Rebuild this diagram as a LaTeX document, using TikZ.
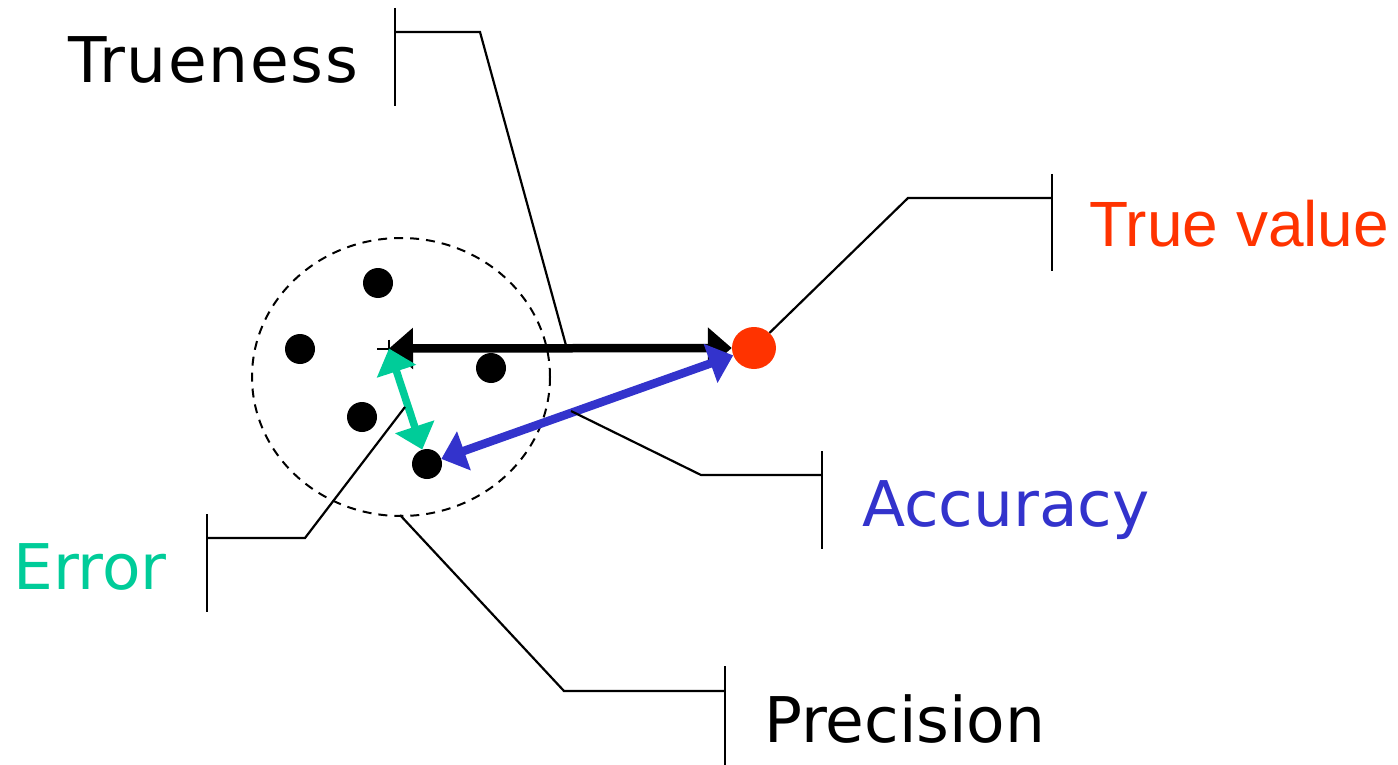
\documentclass[tikz,border=0pt]{standalone}
\usepackage{fontspec}
\setmainfont{DejaVu Sans}
\newfontfamily\arialfont{Liberation Sans}
\newfontfamily\spacedfont[LetterSpace=2.7]{DejaVu Sans}
\usetikzlibrary{arrows.meta,calc,shapes.geometric}
\definecolor{tvred}{HTML}{FF3300}
\definecolor{accblue}{HTML}{3333CC}
\definecolor{errgreen}{HTML}{00CC99}
\begin{document}
\begin{tikzpicture}[x=1pt,y=-1pt,
  lbl/.style={anchor=base west,inner sep=0pt,font=\fontsize{63}{75}\selectfont},
  dot/.style={circle,fill=black,inner sep=0pt,minimum size=30pt},
  callout/.style={line width=2.2pt,black},
  bigarrow/.style={line width=8.5pt,{Triangle[length=24pt,width=40pt]}-{Triangle[length=24pt,width=40pt]}},
  ]
\useasboundingbox (0,0) rectangle (1398,765);
% dashed circle
\draw[line width=2pt,dash pattern=on 9pt off 7pt] (401,377) ellipse [x radius=149, y radius=139];
% dots
\node[dot] (d1) at (378,283) {};
\node[dot] (d2) at (300,349) {};
\node[dot] (d3) at (491,368) {};
\node[dot] (d4) at (362,417) {};
\node[dot] (d5) at (427,464) {};
\coordinate (m) at (389,348.5);
\draw[line width=2pt] ($(m)+(-12,0)$) -- ($(m)+(9,0)$) ($(m)+(0,-9)$) -- ($(m)+(0,9)$);
% true value
\node[ellipse,fill=tvred,inner sep=0pt,minimum width=44pt,minimum height=42pt] (tv) at (754,348) {};
% arrows
\draw[bigarrow,black] (m) -- (tv);
\draw[bigarrow,accblue] (d5) -- (tv);
\draw[bigarrow,errgreen,line width=7.5pt] (m) -- (d5);
% labels
\node[lbl,font=\spacedfont\fontsize{63}{75}\selectfont] (trueness) at (68,83) {Trueness};
\node[lbl,text=tvred,font=\arialfont\fontsize{64}{76}\selectfont] (truevalue) at (1089,246) {True value};
\node[lbl,text=accblue] (accuracy) at (862,526) {Accuracy};
\node[lbl,text=errgreen] (error) at (13,589) {Error};
\node[lbl] (precision) at (764,742) {Precision};
% callouts
\coordinate (tA) at (395,8); \coordinate (tB) at (395,106); \coordinate (tC) at (395,32);
\coordinate (tK) at (480,32); \coordinate (tE) at (567,349);
\draw[callout] (tA) -- (tB);
\draw[callout] (tC) -- (tK) -- (tE);
\coordinate (vA) at (1052,174); \coordinate (vB) at (1052,271); \coordinate (vC) at (1052,198);
\coordinate (vK) at (908,198);
\draw[callout] (vA) -- (vB);
\draw[callout] (vC) -- (vK) -- (tv);
\coordinate (aA) at (822,451); \coordinate (aB) at (822,549); \coordinate (aC) at (822,475);
\coordinate (aK) at (701,475); \coordinate (aE) at (571,411);
\draw[callout] (aA) -- (aB);
\draw[callout] (aC) -- (aK) -- (aE);
\coordinate (eA) at (207,514); \coordinate (eB) at (207,612); \coordinate (eC) at (207,538);
\coordinate (eK) at (305,538); \coordinate (eE) at (405,407);
\draw[callout] (eA) -- (eB);
\draw[callout] (eC) -- (eK) -- (eE);
\coordinate (pA) at (725,666); \coordinate (pB) at (725,765); \coordinate (pC) at (725,691);
\coordinate (pK) at (564,691); \coordinate (pE) at (400,515);
\draw[callout] (pA) -- (pB);
\draw[callout] (pC) -- (pK) -- (pE);
\end{tikzpicture}
\end{document}
